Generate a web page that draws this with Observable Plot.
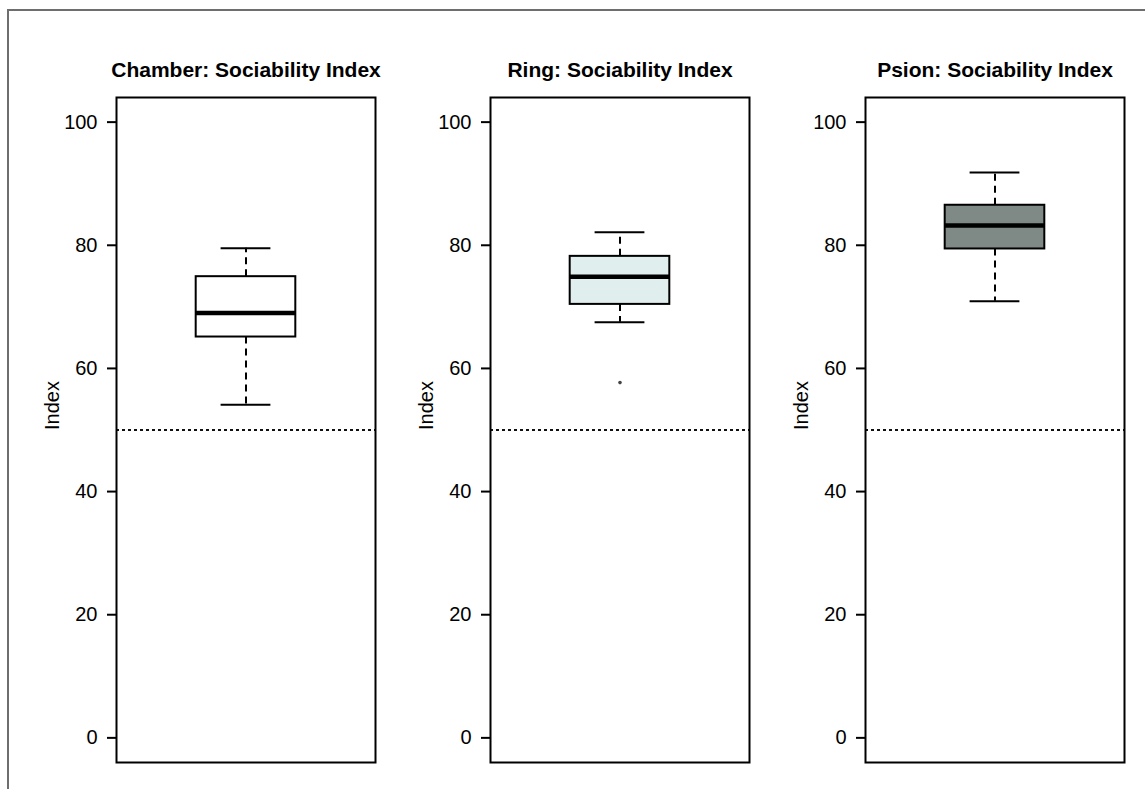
<!DOCTYPE html>
<html>
<head>
<meta charset="utf-8">
<script src="https://cdn.jsdelivr.net/npm/d3@7"></script>
<script src="https://cdn.jsdelivr.net/npm/@observablehq/plot@0.6"></script>
<style>
  html, body { margin: 0; padding: 0; background: white; width: 1145px; height: 789px; overflow: hidden; }
  #outer { position: absolute; left: 7px; top: 9px; width: 1200px; height: 900px; border: 2px solid #6e6e6e; box-sizing: border-box; }
  .panel { position: absolute; top: 0; }
</style>
</head>
<body>
<div id="outer"></div>
<div id="p0" class="panel" style="left:6px"></div>
<div id="p1" class="panel" style="left:380px"></div>
<div id="p2" class="panel" style="left:755px"></div>
<script>
const categories = ["Chamber", "Ring", "Psion"];
const titles = ["Chamber: Sociability Index", "Ring: Sociability Index", "Psion: Sociability Index"];
const whiskerLow = [54.1, 67.5, 70.9];
const quartile1 = [65.1, 70.4, 79.4];
const medians = [69.0, 74.9, 83.2];
const quartile3 = [74.9, 78.2, 86.5];
const whiskerHigh = [79.5, 82.1, 91.8];
const outliers = [[], [57.7], []];
const boxFills = ["#ffffff", "#e0eeee", "#7f8a87"];
const yTicks = [0, 20, 40, 60, 80, 100];
const referenceLine = [50];
const yLabel = "Index";

categories.forEach((cat, i) => {
  const d = {lo: whiskerLow[i], q1: quartile1[i], median: medians[i], q3: quartile3[i], hi: whiskerHigh[i]};
  const chart = Plot.plot({
    width: 379,
    height: 789,
    marginLeft: 110,
    marginRight: 10,
    marginTop: 97,
    marginBottom: 27,
    x: {domain: [0.48, 1.52], axis: null},
    y: {domain: [-4, 104], axis: null},
    style: {background: "transparent", color: "black", fontFamily: "Liberation Sans, Arial, sans-serif", overflow: "visible"},
    marks: [
      Plot.ruleY(referenceLine, {y: v => v, strokeDasharray: "3,3", strokeWidth: 2, stroke: "#111"}),
      Plot.ruleX([d], {x: 1, y1: "q3", y2: "hi", strokeDasharray: "7,5", strokeWidth: 2}),
      Plot.ruleX([d], {x: 1, y1: "q1", y2: "lo", strokeDasharray: "7,5", strokeWidth: 2}),
      Plot.ruleY([d], {y: "hi", x1: 0.9, x2: 1.1, strokeWidth: 2}),
      Plot.ruleY([d], {y: "lo", x1: 0.9, x2: 1.1, strokeWidth: 2}),
      Plot.rect([d], {x1: 0.8, x2: 1.2, y1: "q1", y2: "q3", fill: boxFills[i], stroke: "black", strokeWidth: 2}),
      Plot.ruleY([d], {y: "median", x1: 0.8, x2: 1.2, strokeWidth: 4.5}),
      Plot.dot(outliers[i], {x: 1, y: v => v, r: 1.8, fill: "#444", stroke: null}),
      Plot.frame({stroke: "black", strokeWidth: 2}),
      Plot.axisY({ticks: yTicks, tickSize: 9, tickPadding: 10, fontSize: 20, label: null, strokeWidth: 2}),
      Plot.text([titles[i]], {text: t => t, frameAnchor: "top", dy: -35, fontSize: 21, fontWeight: "bold"}),
      Plot.text([yLabel], {text: t => t, frameAnchor: "left", dx: -64, rotate: -90, fontSize: 20})
    ]
  });
  document.getElementById("p" + i).appendChild(chart);
});
</script>
</body>
</html>
